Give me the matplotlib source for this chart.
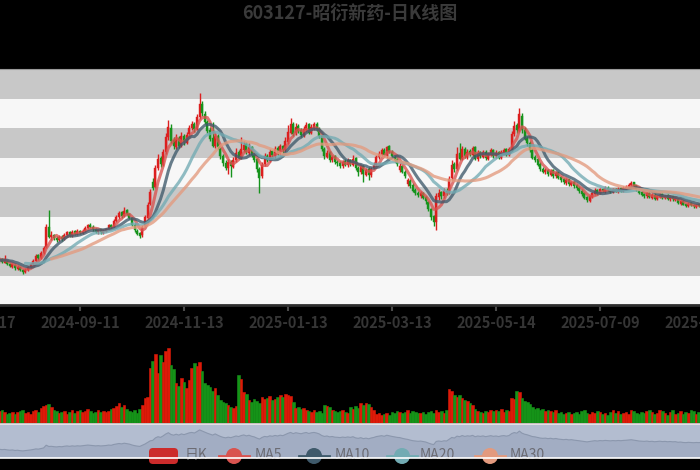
import numpy as np
import pandas as pd
import matplotlib
matplotlib.use('Agg')
import matplotlib.pyplot as plt
from matplotlib.patches import FancyBboxPatch, Circle

plt.rcParams['font.family'] = ['Noto Sans CJK SC', 'DejaVu Sans']

title = '603127-昭衍新药-日K线图'
tick_labels = ['2024-07-17', '2024-09-11', '2024-11-13', '2025-01-13',
               '2025-03-13', '2025-05-14', '2025-07-09', '2025-09-03']
legend_names = ['日K', 'MA5', 'MA10', 'MA20', 'MA30']

# daily candles, one row of 10 per line
open_ = [17.0, 17.2, 17.6, 17.2, 17.8, 17.4, 17.9, 17.5, 18.0, 17.4,
         17.8, 17.2, 17.5, 17.0, 16.5, 16.8, 16.1, 16.4, 16.0, 15.6,
         16.0, 16.4, 16.9, 17.5, 18.4, 18.0, 18.8, 19.8, 23.2, 21.6,
         21.8, 21.4, 21.0, 21.6, 21.2, 21.8, 22.4, 21.8, 22.5, 22.0,
         22.5, 22.2, 22.5, 23.0, 23.6, 23.2, 22.9, 22.3, 22.8, 22.2,
         22.6, 22.9, 23.6, 23.3, 24.3, 24.9, 25.7, 25.1, 26.1, 25.4,
         24.8, 23.6, 22.6, 22.2, 21.8, 23.4, 24.8, 27.2, 30.8, 30.0,
         33.2, 34.9, 33.8, 36.0, 38.4, 40.0, 37.9, 36.8, 38.3, 37.0,
         38.6, 37.5, 38.9, 40.0, 40.7, 39.8, 41.9, 44.0, 42.4, 41.1,
         39.6, 38.3, 37.0, 38.7, 36.9, 35.3, 34.1, 33.2, 34.3, 33.4,
         34.5, 35.9, 35.0, 36.3, 37.3, 35.8, 36.8, 35.5, 34.7, 33.1,
         31.8, 33.9, 35.3, 34.5, 36.1, 35.3, 36.6, 35.7, 37.0, 36.2,
         37.6, 39.2, 40.7, 39.1, 40.3, 39.6, 38.7, 39.7, 40.6, 39.2,
         40.0, 40.7, 39.9, 38.6, 36.5, 35.1, 35.9, 34.5, 35.2, 34.3,
         34.1, 33.5, 34.4, 33.7, 34.6, 33.8, 34.9, 33.3, 32.5, 33.6,
         32.1, 33.0, 32.0, 33.2, 33.7, 35.1, 35.5, 36.3, 35.3, 36.9,
         36.0, 35.1, 34.7, 32.9, 33.5, 32.5, 30.5, 31.1, 30.3, 29.5,
         29.0, 28.5, 29.0, 28.3, 27.5, 26.3, 25.0, 24.0, 28.3, 29.1,
         28.5, 29.4, 29.0, 31.5, 33.9, 33.0, 35.7, 34.7, 36.5, 35.1,
         36.1, 35.5, 36.7, 34.7, 35.9, 35.1, 36.0, 34.8, 35.5, 36.3,
         35.2, 35.9, 35.0, 35.8, 36.4, 35.5, 36.3, 38.9, 40.5, 39.5,
         42.0, 39.7, 38.3, 37.5, 36.3, 35.1, 34.7, 33.9, 33.1, 32.5,
         32.8, 32.1, 32.8, 31.8, 32.5, 31.7, 31.3, 30.7, 31.3, 30.4,
         30.9, 30.3, 29.9, 29.4, 28.9, 28.3, 27.7, 28.3, 28.8, 29.5,
         29.0, 29.7, 29.2, 29.9, 29.6, 29.1, 29.7, 29.2, 29.8, 29.3,
         29.7, 30.0, 30.3, 30.8, 30.3, 29.7, 29.1, 28.8, 28.4, 29.0,
         28.2, 28.7, 28.0, 28.3, 28.8, 28.1, 28.6, 27.9, 28.4, 27.8,
         28.0, 27.2, 27.7, 27.1, 26.7, 27.3, 27.0, 26.6, 27.1, 26.7,
         27.0]
close = [17.2, 17.5, 17.1, 17.8, 17.4, 17.9, 17.6, 18.0, 17.5, 17.8,
         17.3, 17.6, 17.0, 16.6, 16.9, 16.2, 16.5, 15.9, 15.6, 16.0,
         16.4, 16.9, 17.5, 18.3, 18.0, 18.8, 19.6, 23.3, 21.6, 21.8,
         21.3, 21.0, 21.5, 21.2, 21.9, 22.3, 21.8, 22.4, 22.0, 22.5,
         22.2, 22.6, 23.1, 23.5, 23.2, 22.8, 22.4, 22.7, 22.3, 22.6,
         22.9, 23.5, 23.2, 24.3, 24.9, 25.6, 25.1, 26.0, 25.4, 24.8,
         23.6, 22.7, 22.1, 21.7, 23.3, 24.9, 27.0, 29.2, 29.9, 33.2,
         34.8, 33.9, 36.0, 38.5, 40.2, 37.8, 36.9, 38.2, 37.0, 38.6,
         37.6, 38.8, 40.0, 40.6, 39.8, 41.8, 44.0, 42.5, 41.0, 39.5,
         38.2, 37.0, 38.6, 36.8, 35.2, 34.0, 33.3, 34.2, 33.5, 34.6,
         35.8, 35.0, 36.4, 37.2, 35.9, 36.8, 35.4, 34.6, 33.0, 31.6,
         33.8, 35.2, 34.6, 36.0, 35.4, 36.5, 35.8, 36.9, 36.2, 37.8,
         39.4, 40.6, 39.0, 40.2, 39.5, 38.8, 39.8, 40.5, 39.2, 40.1,
         40.6, 39.8, 38.6, 36.4, 35.2, 35.8, 34.6, 35.1, 34.2, 34.0,
         33.6, 34.3, 33.8, 34.5, 33.9, 34.8, 33.2, 32.6, 33.5, 32.2,
         32.9, 32.0, 33.1, 33.8, 35.0, 35.6, 36.2, 35.4, 36.8, 36.0,
         35.2, 34.6, 33.9, 33.6, 32.6, 31.8, 31.2, 30.2, 29.4, 29.0,
         28.6, 28.9, 28.2, 27.6, 26.2, 25.0, 24.1, 28.4, 29.0, 28.4,
         29.3, 29.0, 31.4, 33.8, 33.0, 35.6, 34.8, 36.4, 35.2, 36.0,
         35.6, 36.6, 34.8, 35.8, 35.2, 35.9, 34.9, 35.6, 36.2, 35.3,
         35.8, 35.0, 35.9, 36.3, 35.6, 36.4, 39.0, 40.4, 39.6, 42.4,
         39.6, 38.2, 37.4, 36.2, 35.0, 34.6, 33.8, 33.0, 32.6, 32.9,
         32.2, 32.7, 31.9, 32.4, 31.6, 31.2, 30.8, 31.2, 30.5, 30.8,
         30.2, 29.8, 29.3, 28.8, 28.2, 27.8, 28.4, 28.9, 29.4, 29.0,
         29.6, 29.3, 29.8, 29.5, 29.2, 29.6, 29.3, 29.7, 29.4, 29.8,
         30.0, 30.4, 30.7, 30.2, 29.6, 29.0, 28.7, 28.5, 28.9, 28.3,
         28.6, 28.0, 28.4, 28.7, 28.2, 28.5, 28.0, 28.3, 27.9, 28.1,
         27.3, 27.6, 27.0, 26.8, 27.2, 26.9, 26.7, 27.0, 26.8, 27.1,
         27.2]
high = [17.5, 17.8, 17.7, 18.1, 17.9, 18.2, 18.0, 18.4, 18.1, 18.2,
        17.9, 18.5, 17.6, 17.1, 17.1, 16.9, 16.7, 16.5, 16.1, 16.2,
        16.6, 17.1, 17.8, 18.6, 18.6, 19.1, 20.0, 23.8, 26.1, 22.6,
        22.0, 21.7, 21.8, 21.8, 22.2, 22.6, 22.6, 22.7, 22.7, 22.8,
        22.7, 22.9, 23.4, 23.8, 23.9, 23.5, 23.1, 22.9, 22.9, 22.8,
        23.1, 23.8, 23.8, 24.5, 25.2, 25.9, 25.9, 26.6, 26.3, 25.6,
        25.0, 23.9, 22.9, 22.4, 23.6, 25.2, 27.4, 29.7, 31.6, 33.8,
        35.6, 35.3, 36.5, 39.2, 41.4, 40.6, 38.4, 38.9, 38.6, 39.3,
        39.0, 39.3, 40.5, 41.2, 41.0, 42.3, 45.9, 44.6, 42.9, 41.3,
        40.1, 41.0, 39.2, 38.9, 37.1, 35.6, 34.5, 34.7, 34.6, 35.1,
        36.6, 36.2, 38.5, 37.8, 37.6, 37.5, 37.0, 35.9, 35.0, 33.4,
        34.2, 35.7, 35.6, 36.4, 36.3, 36.9, 36.9, 37.3, 37.2, 38.4,
        40.5, 41.7, 41.0, 40.8, 40.6, 40.0, 40.3, 41.0, 40.9, 40.6,
        41.0, 41.0, 40.2, 38.8, 36.8, 36.3, 36.1, 35.5, 35.5, 34.6,
        34.4, 34.6, 34.7, 34.9, 34.8, 35.4, 35.1, 33.6, 33.8, 33.8,
        33.3, 33.4, 33.4, 34.2, 35.4, 36.1, 36.6, 36.6, 37.0, 37.1,
        36.3, 35.5, 35.0, 34.0, 33.8, 32.8, 31.6, 31.4, 30.6, 29.9,
        29.3, 29.3, 29.2, 28.5, 27.7, 26.5, 25.3, 28.9, 29.6, 29.4,
        29.8, 29.8, 31.9, 34.6, 34.3, 36.7, 37.5, 36.9, 36.8, 36.5,
        36.4, 37.0, 37.0, 36.2, 36.1, 36.3, 36.2, 35.9, 36.6, 36.4,
        36.2, 36.1, 36.3, 36.6, 36.6, 36.8, 39.5, 41.2, 40.8, 43.4,
        42.5, 40.2, 38.6, 37.8, 36.6, 35.4, 35.0, 34.2, 33.4, 33.2,
        33.0, 33.0, 33.0, 32.7, 32.6, 31.9, 31.5, 31.5, 31.4, 31.1,
        31.1, 30.5, 30.1, 29.6, 29.1, 28.5, 28.7, 29.2, 29.8, 29.7,
        29.9, 29.9, 30.1, 30.1, 29.8, 29.9, 29.9, 30.0, 30.0, 30.1,
        30.3, 30.7, 31.0, 30.9, 30.4, 29.9, 29.3, 29.0, 29.2, 29.2,
        28.9, 28.9, 28.6, 28.9, 28.9, 28.7, 28.8, 28.5, 28.5, 28.3,
        28.1, 27.8, 27.8, 27.2, 27.4, 27.4, 27.1, 27.2, 27.2, 27.3,
        27.4]
low = [16.8, 17.0, 16.9, 17.0, 17.2, 17.2, 17.3, 17.3, 17.3, 17.2,
       17.1, 17.1, 16.8, 16.4, 16.3, 16.0, 16.0, 15.7, 15.2, 15.4,
       15.8, 16.2, 16.7, 17.3, 17.7, 17.8, 18.6, 19.6, 21.3, 21.1,
       21.0, 20.6, 20.8, 20.9, 21.0, 21.6, 21.5, 21.6, 21.8, 21.8,
       22.0, 22.0, 22.3, 22.8, 23.0, 22.6, 22.2, 22.1, 22.0, 22.0,
       22.4, 22.7, 22.9, 23.1, 24.0, 24.6, 24.8, 24.9, 25.2, 24.5,
       23.4, 22.4, 21.8, 21.3, 21.6, 23.2, 24.6, 26.9, 29.5, 29.8,
       32.8, 33.4, 33.5, 35.6, 38.0, 37.5, 36.4, 36.5, 36.6, 36.7,
       37.2, 37.3, 38.7, 39.6, 39.4, 39.6, 41.6, 42.1, 40.6, 39.2,
       37.8, 36.7, 36.6, 36.5, 34.8, 33.6, 32.9, 32.2, 31.7, 33.2,
       34.2, 34.7, 34.8, 35.9, 35.6, 35.5, 35.1, 34.3, 32.6, 29.0,
       31.5, 33.6, 34.3, 34.2, 35.1, 35.0, 35.5, 35.4, 35.8, 36.0,
       37.3, 38.9, 38.6, 38.8, 39.1, 38.4, 38.5, 39.4, 38.9, 38.9,
       39.7, 39.5, 38.3, 36.1, 34.8, 34.9, 34.3, 34.3, 33.9, 33.6,
       33.2, 33.3, 33.5, 33.4, 33.6, 33.6, 32.9, 31.8, 32.2, 30.9,
       31.8, 31.2, 31.7, 33.0, 33.5, 34.8, 35.2, 35.1, 35.0, 35.7,
       34.9, 34.3, 33.6, 32.6, 32.3, 31.5, 30.2, 29.9, 29.1, 28.6,
       28.3, 28.2, 27.9, 27.2, 25.9, 24.4, 23.4, 22.7, 27.8, 28.0,
       28.2, 28.7, 28.8, 31.2, 32.6, 32.8, 34.5, 34.5, 34.9, 34.8,
       35.3, 35.2, 34.5, 34.4, 34.9, 34.9, 34.6, 34.5, 35.3, 35.0,
       34.9, 34.8, 34.8, 35.6, 35.3, 35.3, 36.1, 38.6, 39.2, 39.3,
       39.2, 37.9, 37.0, 35.9, 34.7, 34.2, 33.5, 32.7, 32.3, 32.2,
       31.9, 31.8, 31.6, 31.6, 31.3, 30.9, 30.5, 30.4, 30.2, 30.2,
       29.9, 29.5, 29.0, 28.5, 27.9, 27.5, 27.5, 28.1, 28.6, 28.7,
       28.8, 29.1, 29.0, 29.3, 29.0, 28.9, 29.1, 29.0, 29.2, 29.1,
       29.5, 29.8, 30.1, 30.0, 29.4, 28.8, 28.5, 28.2, 28.2, 28.1,
       28.0, 27.8, 27.8, 28.1, 28.0, 27.9, 27.8, 27.7, 27.7, 27.6,
       27.1, 27.0, 26.9, 26.6, 26.6, 26.7, 26.5, 26.4, 26.6, 26.5,
       26.8]
volume = [2.1, 2.4, 1.9, 2.6, 2.2, 2.0, 2.5, 2.3, 2.1, 2.4,
          2.6, 2.2, 1.8, 2.0, 2.3, 1.9, 2.2, 2.5, 2.6, 2.0,
          2.2, 1.8, 2.4, 2.6, 2.2, 3.0, 3.4, 3.6, 3.8, 3.2,
          2.6, 2.4, 2.0, 2.2, 2.5, 1.9, 2.3, 2.6, 2.1, 2.4,
          2.7, 2.2, 2.5, 2.8, 2.4, 2.0, 2.3, 2.6, 2.2, 2.5,
          2.2, 2.4, 2.8, 3.0, 3.4, 4.0, 3.2, 3.6, 2.8, 2.4,
          2.2, 2.6, 2.0, 2.8, 3.6, 5.0, 5.2, 11.0, 12.4, 13.8,
          10.0, 13.6, 12.2, 14.4, 15.0, 11.6, 10.8, 8.0, 7.4, 9.0,
          8.2, 7.0, 8.6, 11.0, 12.0, 11.4, 12.2, 10.4, 8.0, 7.6,
          7.2, 6.4, 7.0, 5.6, 4.6, 4.2, 4.0, 3.6, 3.2, 3.0,
          3.4, 9.6, 8.8, 6.2, 5.8, 4.6, 4.2, 4.8, 4.4, 4.0,
          5.2, 4.8, 5.0, 5.4, 4.6, 4.8, 5.2, 5.6, 5.2, 5.8,
          5.6, 5.4, 4.2, 3.0, 3.2, 2.8, 3.0, 2.6, 2.4, 2.2,
          2.6, 2.2, 2.4, 2.0, 3.6, 3.4, 3.2, 2.6, 2.4, 2.2,
          2.4, 2.6, 2.2, 2.0, 3.2, 2.8, 3.4, 3.0, 4.0, 3.6,
          4.0, 3.8, 3.2, 2.6, 1.8, 2.0, 1.6, 1.8, 2.0, 1.7,
          2.2, 2.0, 2.4, 2.2, 2.0, 2.3, 2.6, 2.1, 2.4, 2.2,
          2.0, 2.1, 2.2, 1.9, 2.2, 2.4, 2.0, 2.6, 2.2, 2.4,
          2.0, 2.6, 6.8, 6.4, 5.6, 5.2, 5.6, 5.0, 4.6, 4.4,
          4.0, 3.6, 2.8, 2.4, 2.2, 2.0, 2.4, 2.2, 2.6, 2.4,
          2.6, 2.4, 2.8, 2.2, 2.6, 2.4, 5.0, 4.8, 6.4, 6.2,
          5.0, 4.4, 4.2, 3.8, 3.2, 2.8, 3.0, 2.6, 2.8, 2.4,
          2.6, 2.4, 2.2, 2.6, 2.0, 2.2, 1.8, 2.0, 2.2, 1.9,
          2.0, 2.2, 1.8, 2.4, 2.6, 2.0, 1.8, 2.2, 2.0, 2.4,
          2.2, 1.8, 2.0, 1.6, 2.2, 2.6, 2.0, 2.4, 1.8, 2.0,
          2.2, 1.9, 2.6, 2.4, 2.0, 1.8, 2.2, 2.0, 2.4, 2.6,
          2.2, 1.8, 2.0, 2.6, 2.4, 2.0, 1.6, 2.2, 2.6, 1.8,
          2.0, 2.4, 1.8, 2.2, 2.0, 2.6, 2.4, 1.8, 2.2, 2.0,
          2.2]

ma_days = [5, 10, 20, 30]
ma_colors = ['#d9534f', '#3f5a6b', '#72abb3', '#e39a7e']
up_col, down_col = '#dc1f1f', '#16931c'
vol_up, vol_down = '#dd1a08', '#159318'

o = np.array(open_)
c = np.array(close)
h = np.array(high)
l = np.array(low)
v = np.array(volume)
x = np.arange(len(c))
cols = np.where(c >= o, up_col, down_col)
vcols = np.where(c >= o, vol_up, vol_down)

W, H = 700, 470
# all three panels run a bit past the picture edges, like a cropped screenshot
left_px, right_px = -30, 710
px_per_day = 2.6
xlim = ((left_px + 24) / px_per_day, (right_px + 24) / px_per_day)


def panel(top, bottom):
    return fig.add_axes([left_px / W, 1 - bottom / H, (right_px - left_px) / W, (bottom - top) / H])


fig = plt.figure(figsize=(7, 4.7), dpi=100, facecolor='black')

# price panel
ax = panel(69, 305)
ax.set_xlim(*xlim)
ax.set_ylim(10, 50)
for k in range(8):
    ax.axhspan(10 + 5 * k, 15 + 5 * k, color='#f7f7f7' if k % 2 == 0 else '#c8c8c8', lw=0, zorder=0)
ax.vlines(x, l, h, colors=cols, lw=1.0, zorder=2)
body = np.maximum(np.abs(c - o), 0.1)
ax.bar(x, body, bottom=np.minimum(o, c), width=0.72, color=cols, edgecolor=cols, lw=0.3, zorder=2)
for n, col in zip(ma_days, ma_colors):
    ma = pd.Series(c).rolling(n).mean()
    ax.plot(x, ma, color=col, lw=2.2, alpha=0.78, zorder=3, solid_capstyle='round')
ax.set_yticks([])
ax.set_xticks(np.arange(len(tick_labels)) * 40)
ax.set_xticklabels(tick_labels, fontsize=10.5, fontweight='bold', color='#353535')
ax.tick_params(axis='x', colors='#4a4a4a', length=4, width=1.5, pad=3, labelcolor='#353535')
for s in ['left', 'right']:
    ax.spines[s].set_visible(False)
ax.spines['top'].set_color('#9a9a9a')
ax.spines['bottom'].set_color('#2e2e2e')
ax.spines['bottom'].set_linewidth(2)

# volume panel
axv = panel(335, 423)
axv.set_facecolor('black')
axv.set_xlim(*xlim)
axv.set_ylim(0, 17.6)
axv.bar(x, v, width=1.0, color=vcols, edgecolor=vcols, lw=0.4)
axv.axis('off')

# slider with data shadow
axs = panel(424, 458)
axs.set_facecolor('#b3bdd0')
axs.set_xlim(*xlim)
axs.set_ylim(6, 52)
axs.fill_between(x, 6, c, color='#a2adc3', lw=0)
axs.plot(x, c, color='#8b97ad', lw=0.8)
axs.set_xticks([])
axs.set_yticks([])
for s in ['left', 'right', 'bottom']:
    axs.spines[s].set_visible(False)
axs.spines['top'].set_color('#efe6e6')
axs.spines['top'].set_linewidth(1.2)

# overlay in pixel units for title and legend
ov = fig.add_axes([0, 0, 1, 1], zorder=10)
ov.set_xlim(0, W)
ov.set_ylim(H, 0)
ov.axis('off')
ov.patch.set_alpha(0)

ov.text(350, 13, title, ha='center', va='center', fontsize=13, fontweight='bold', color='#3a3a3a')

ov.add_patch(FancyBboxPatch((149, 448), 29, 16, boxstyle='round,pad=0,rounding_size=4',
                            color='#cc2b2b', lw=0))
ov.text(185, 455, legend_names[0], ha='left', va='center', fontsize=10, color='#6c6c74')
icon_x = [234, 314, 402, 490]
text_x = [255, 335, 420, 510]
for cx, tx, col, name in zip(icon_x, text_x, ma_colors, legend_names[1:]):
    ov.plot([cx - 15, cx + 15], [456, 456], color=col, lw=2)
    ov.add_patch(Circle((cx, 456), 8, color=col, lw=0))
    ov.text(tx, 455, name, ha='left', va='center', fontsize=10, color='#6c6c74')
ov.plot([0, W], [458, 458], color='white', lw=1.2, zorder=20)

fig.savefig('out.png', dpi=100, facecolor='black')
